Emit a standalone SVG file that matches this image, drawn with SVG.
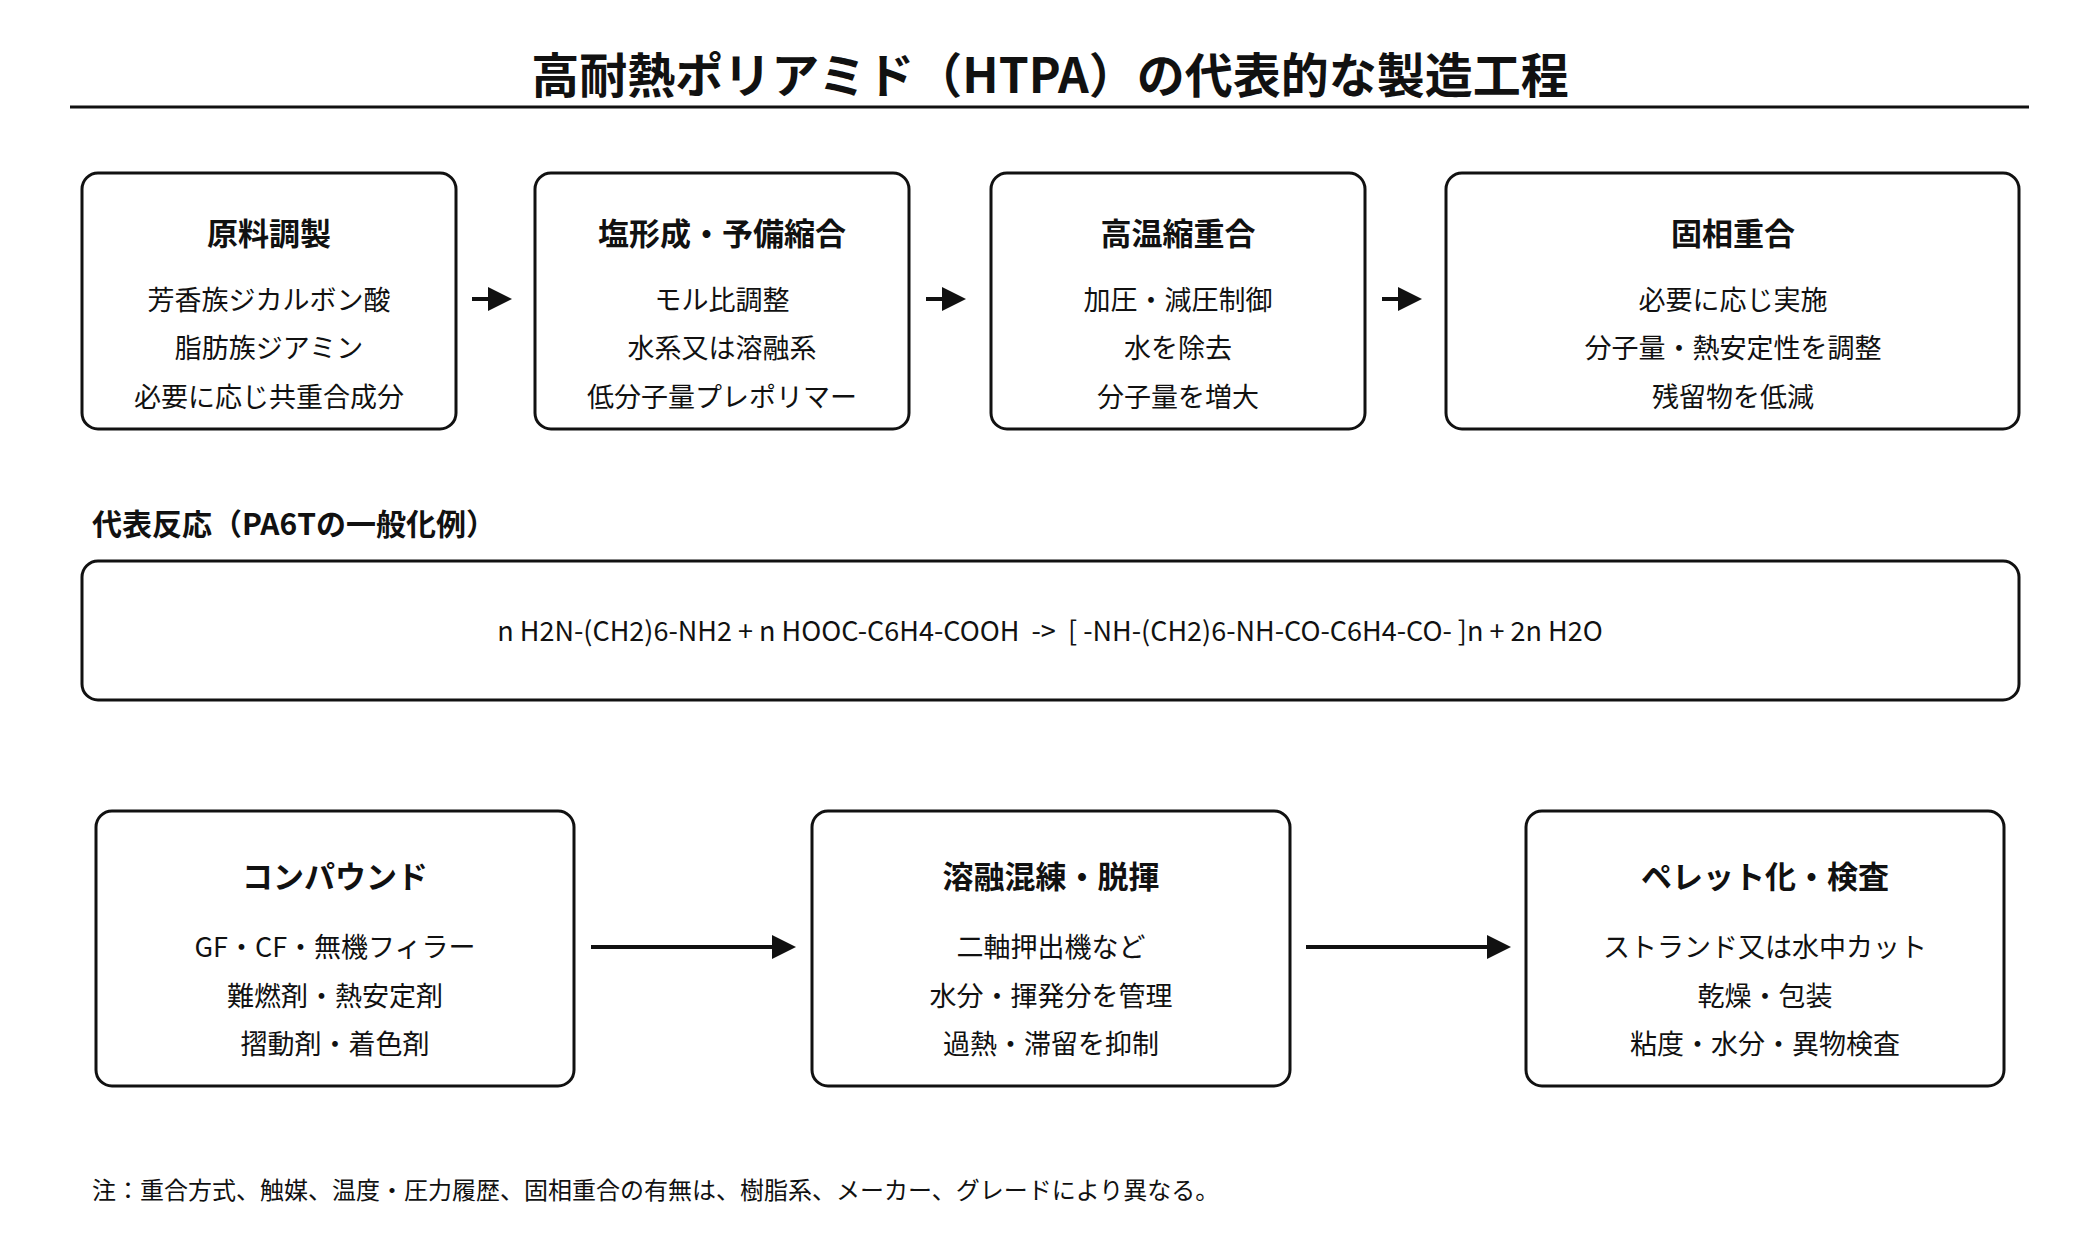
<svg xmlns="http://www.w3.org/2000/svg" width="2100" height="1250" viewBox="0 0 2100 1250">
<style>
text{font-family:"Noto Sans CJK JP","Noto Sans",sans-serif;fill:#111}
.box{fill:#fff;stroke:#111;stroke-width:3}
.t{font-size:31px;font-weight:bold;text-anchor:middle}
.b{font-size:27px;text-anchor:middle}
.c{stroke:#111;stroke-width:4;fill:none}
</style>
<defs><marker id="ah" markerWidth="6" markerHeight="6" refX="5" refY="3" orient="auto" markerUnits="strokeWidth"><path d="M0,0L6,3L0,6z" fill="#111"/></marker></defs>
<rect width="2100" height="1250" fill="#fff"/>
<g transform="translate(0,-3)">
<text x="1050" y="96" font-size="48" font-weight="bold" text-anchor="middle">高耐熱ポリアミド（HTPA）の代表的な製造工程</text>
<line x1="70" y1="110" x2="2029" y2="110" stroke="#111" stroke-width="3"/>
<g id="n1"><rect class="box" x="82" y="176" width="374" height="256" rx="16"/><text class="t" x="269" y="248">原料調製</text><text class="b" x="269" y="313">芳香族ジカルボン酸</text><text class="b" x="269" y="361">脂肪族ジアミン</text><text class="b" x="269" y="410">必要に応じ共重合成分</text></g>
<g id="n2"><rect class="box" x="535" y="176" width="374" height="256" rx="16"/><text class="t" x="722" y="248">塩形成・予備縮合</text><text class="b" x="722" y="313">モル比調整</text><text class="b" x="722" y="361">水系又は溶融系</text><text class="b" x="722" y="410">低分子量プレポリマー</text></g>
<g id="n3"><rect class="box" x="991" y="176" width="374" height="256" rx="16"/><text class="t" x="1178" y="248">高温縮重合</text><text class="b" x="1178" y="313">加圧・減圧制御</text><text class="b" x="1178" y="361">水を除去</text><text class="b" x="1178" y="410">分子量を増大</text></g>
<g id="n4"><rect class="box" x="1446" y="176" width="573" height="256" rx="16"/><text class="t" x="1733" y="248">固相重合</text><text class="b" x="1733" y="313">必要に応じ実施</text><text class="b" x="1733" y="361">分子量・熱安定性を調整</text><text class="b" x="1733" y="410">残留物を低減</text></g>
<text x="92" y="538" font-size="30" font-weight="bold">代表反応（PA6Tの一般化例）</text>
<g id="n5"><rect class="box" x="82" y="564" width="1937" height="139" rx="16"/><text class="b" x="1050" y="644" font-size="26" xml:space="preserve">n H2N-(CH2)6-NH2 + n HOOC-C6H4-COOH  -&gt;  [ -NH-(CH2)6-NH-CO-C6H4-CO- ]n + 2n H2O</text></g>
<g id="n6"><rect class="box" x="96" y="814" width="478" height="275" rx="16"/><text class="t" x="335" y="891">コンパウンド</text><text class="b" x="335" y="960">GF・CF・無機フィラー</text><text class="b" x="335" y="1009">難燃剤・熱安定剤</text><text class="b" x="335" y="1057">摺動剤・着色剤</text></g>
<g id="n7"><rect class="box" x="812" y="814" width="478" height="275" rx="16"/><text class="t" x="1051" y="891">溶融混練・脱揮</text><text class="b" x="1051" y="960">二軸押出機など</text><text class="b" x="1051" y="1009">水分・揮発分を管理</text><text class="b" x="1051" y="1057">過熱・滞留を抑制</text></g>
<g id="n8"><rect class="box" x="1526" y="814" width="478" height="275" rx="16"/><text class="t" x="1765" y="891">ペレット化・検査</text><text class="b" x="1765" y="960">ストランド又は水中カット</text><text class="b" x="1765" y="1009">乾燥・包装</text><text class="b" x="1765" y="1057">粘度・水分・異物検査</text></g>
<g id="connectors">
<line class="c" x1="472" y1="302" x2="508" y2="302" marker-end="url(#ah)"/>
<line class="c" x1="926" y1="302" x2="962" y2="302" marker-end="url(#ah)"/>
<line class="c" x1="1382" y1="302" x2="1418" y2="302" marker-end="url(#ah)"/>
<line class="c" x1="591" y1="950" x2="792" y2="950" marker-end="url(#ah)"/>
<line class="c" x1="1306" y1="950" x2="1507" y2="950" marker-end="url(#ah)"/>
</g>
<text x="92" y="1202" font-size="24">注：重合方式、触媒、温度・圧力履歴、固相重合の有無は、樹脂系、メーカー、グレードにより異なる。</text>
</g>
</svg>
